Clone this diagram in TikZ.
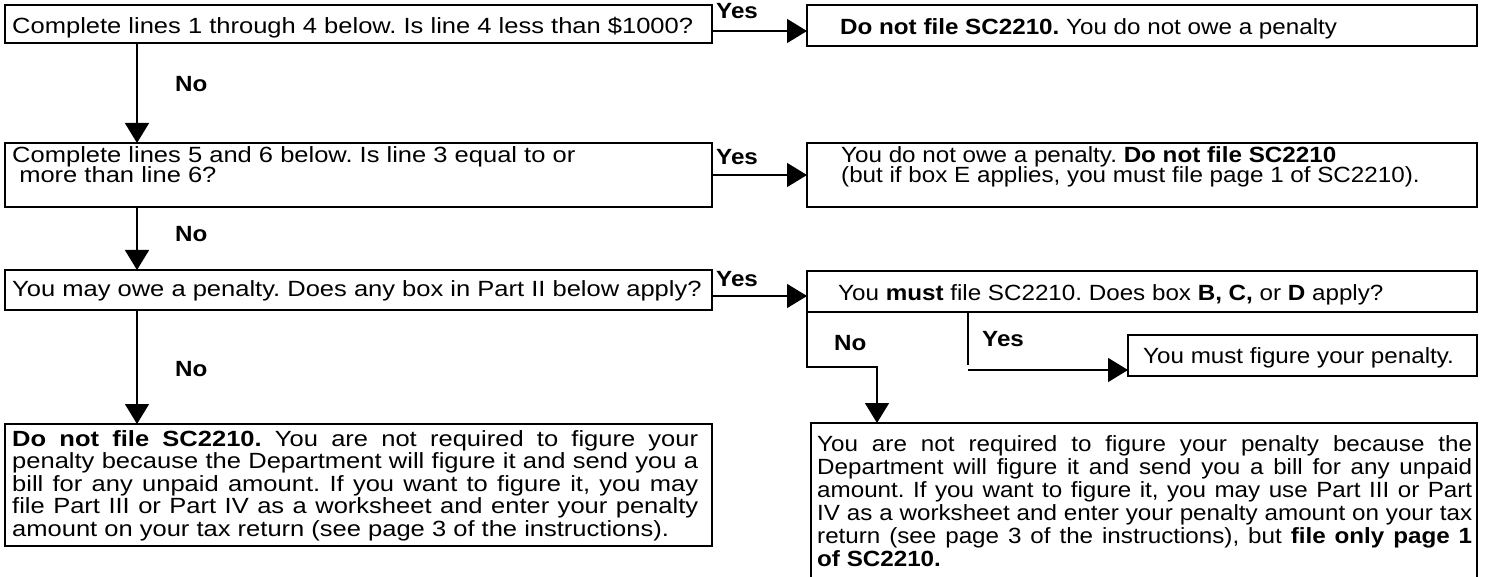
\documentclass[tikz,border=0pt]{standalone}
\usepackage{fontspec}
\setmainfont{Liberation Sans}[FakeStretch=1.10]
\newfontfamily\wideff{Liberation Sans}[FakeStretch=1.16]
\usetikzlibrary{arrows.meta}
\frenchspacing
\newcommand\fsA{\fontsize{22}{20}\selectfont\lineskiplimit=-50pt\relax}
\newcommand\fsB{\fontsize{22}{23}\selectfont\lineskiplimit=-50pt\relax}
\newcommand\fsC{\fontsize{22}{22.5}\selectfont\lineskiplimit=-50pt\relax}
\newcommand\jline[2]{\hbox to #1pt{#2}}
\begin{document}
\begin{tikzpicture}[x=1pt,y=-1pt,
  box/.style={draw, line width=1.5pt, rectangle, inner sep=0pt, outer sep=0pt, anchor=north west},
  txtL/.style={inner sep=0pt, anchor=base west, font=\wideff\fsA},
  txtR/.style={inner sep=0pt, anchor=base west, font=\fsA},
  parL/.style={inner sep=0pt, anchor=base west, font=\wideff\fsC},
  parR/.style={inner sep=0pt, anchor=base west, font=\fsB},
  lbl/.style={inner sep=0pt, anchor=base west, font=\fsA\bfseries},
  conn/.style={line width=1.5pt},
  arr/.style={line width=1.5pt, -{Triangle[length=20pt,width=24pt]}}]
\useasboundingbox (0,0) rectangle (1486,577);
\clip (0,0) rectangle (1486,577);
% boxes
\node[box, minimum width=707pt, minimum height=38pt] (b1) at (5,5) {};
\node[box, minimum width=670pt, minimum height=41pt] (b2) at (807,5) {};
\node[box, minimum width=707pt, minimum height=64pt] (b3) at (5,143) {};
\node[box, minimum width=670pt, minimum height=64pt] (b4) at (807,143) {};
\node[box, minimum width=707pt, minimum height=40pt] (b5) at (5,270) {};
\node[box, minimum width=670pt, minimum height=41pt] (b6) at (807,271) {};
\node[box, minimum width=349pt, minimum height=41pt] (b7) at (1128,335) {};
\node[box, minimum width=666pt, minimum height=170pt] (b8) at (811,423) {};
\node[box, minimum width=707pt, minimum height=122pt] (b9) at (5,424) {};
% texts
\node[txtL] (t1) at (12,34) {Complete lines 1 through 4 below. Is line 4 less than \$1000?};
\node[txtR] (t2) at (840,35) {\textbf{Do not file SC2210.} You do not owe a penalty};
\node[txtL] (t3) at (12,163) {\vtop{\hbox{Complete lines 5 and 6 below. Is line 3 equal to or}\hbox{\ more than line 6?}}};
\node[txtR] (t4) at (841,163) {\vtop{\hbox{You do not owe a penalty. \textbf{Do not file SC2210}}\hbox{(but if box E applies, you must file page 1 of SC2210).}}};
\node[txtL] (t5) at (12,297) {You may owe a penalty. Does any box in Part II below apply?};
\node[txtR] (t6) at (838,301) {You \textbf{must} file SC2210. Does box \textbf{B, C,} or \textbf{D} apply?};
\node[txtR] (t7) at (1143,363) {You must figure your penalty.};
\node[parR] (t8) at (817,451) {\vtop{%
  \jline{655}{You are not required to figure your penalty because the}
  \jline{655}{Department will figure it and send you a bill for any unpaid}
  \jline{655}{amount. If you want to figure it, you may use Part III or Part}
  \jline{655}{IV as a worksheet and enter your penalty amount on your tax}
  \jline{655}{return (see page 3 of the instructions), but \textbf{file only page 1}}
  \hbox{\textbf{of SC2210.}}}};
\node[parL] (t9) at (12,446) {\vtop{%
  \jline{686}{\textbf{Do not file SC2210.} You are not required to figure your}
  \jline{686}{penalty because the Department will figure it and send you a}
  \jline{686}{bill for any unpaid amount. If you want to figure it, you may}
  \jline{686}{file Part III or Part IV as a worksheet and enter your penalty}
  \hbox{amount on your tax return (see page 3 of the instructions).}}};
% labels
\node[lbl] (y1) at (716,19) {Yes};
\node[lbl] (y2) at (716,165) {Yes};
\node[lbl] (y3) at (716,287) {Yes};
\node[lbl] (y4) at (982,346) {Yes};
\node[lbl] (n1) at (175,92) {No};
\node[lbl] (n2) at (175,242) {No};
\node[lbl] (n3) at (175,376) {No};
\node[lbl] (n4) at (834,350) {No};
% connectors
\coordinate (dx) at (137,0);
\draw[arr] (b1.south -| dx) -- (b3.north -| dx);
\draw[arr] (b3.south -| dx) -- (b5.north -| dx);
\draw[arr] (b5.south -| dx) -- (b9.north -| dx);
\coordinate (h1) at (0,31);
\coordinate (h2) at (0,175);
\coordinate (h3) at (0,296);
\draw[arr] (b1.east |- h1) -- (b2.west |- h1);
\draw[arr] (b3.east |- h2) -- (b4.west |- h2);
\draw[arr] (b5.east |- h3) -- (b6.west |- h3);
\coordinate (nb) at (877,367);
\draw[arr] (b6.south west) |- (nb) -- (nb |- b8.north);
\coordinate (yb) at (968,365);
\draw[conn] (b6.south -| yb) -- (yb);
\coordinate (ya) at (968,370);
\draw[arr] (ya) -- (ya -| b7.west);
\end{tikzpicture}
\end{document}
